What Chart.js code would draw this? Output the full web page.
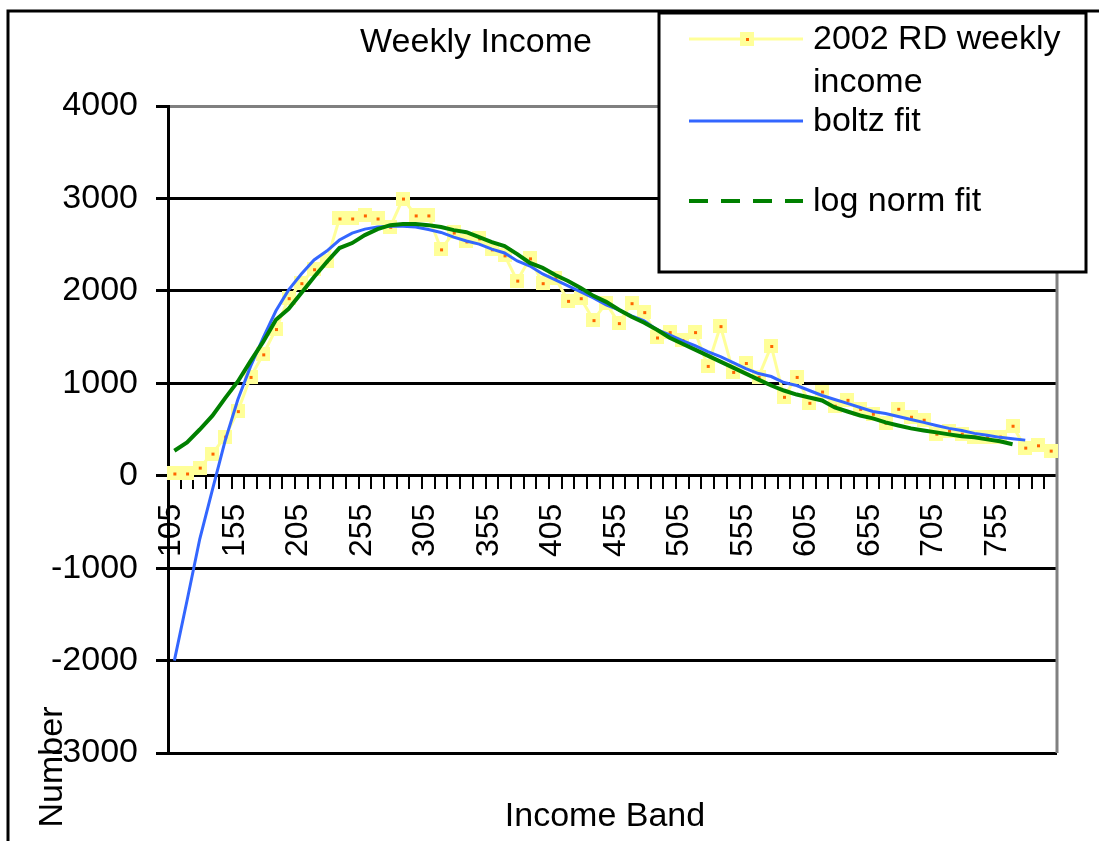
<!DOCTYPE html>
<html>
<head>
<meta charset="utf-8">
<title>Weekly Income</title>
<script src="https://cdn.jsdelivr.net/npm/chart.js@4.4.0/dist/chart.umd.min.js"></script>
<style>
  body { margin: 0; background: #fff; }
  #wrap { width: 1099px; height: 841px; }
</style>
</head>
<body>
<div id="wrap"><canvas id="weekly" width="1099" height="841"></canvas></div>
<script>
// income bands (category axis)
const bandas = [
  105, 115, 125, 135, 145, 155, 165, 175, 185, 195,
  205, 215, 225, 235, 245, 255, 265, 275, 285, 295,
  305, 315, 325, 335, 345, 355, 365, 375, 385, 395,
  405, 415, 425, 435, 445, 455, 465, 475, 485, 495,
  505, 515, 525, 535, 545, 555, 565, 575, 585, 595,
  605, 615, 625, 635, 645, 655, 665, 675, 685, 695,
  705, 715, 725, 735, 745, 755, 765, 775, 785, 795
]

// 2002 RD weekly income
const rendaSemanal = [
  24, 24, 88, 239, 423, 699, 1069, 1313, 1587, 1921,
  2083, 2234, 2320, 2783, 2783, 2816, 2783, 2693, 2999, 2816,
  2816, 2449, 2632, 2535, 2568, 2449, 2384, 2111, 2352, 2083,
  2137, 1892, 1921, 1684, 1867, 1651, 1867, 1770, 1496, 1554,
  1468, 1554, 1188, 1619, 1123, 1220, 1069, 1404, 854, 1069,
  789, 911, 757, 821, 724, 671, 573, 724, 638, 606,
  455, 487, 455, 423, 423, 423, 541, 304, 329, 272
]

// boltz fit
const boltzFit = [
  -2000, -1350, -685, -150, 380, 825, 1183, 1493, 1784, 2010,
  2183, 2334, 2431, 2550, 2625, 2668, 2690, 2700, 2700, 2690,
  2664, 2632, 2582, 2540, 2506, 2452, 2410, 2323, 2269, 2183,
  2118, 2054, 1989, 1924, 1849, 1795, 1730, 1676, 1579, 1525,
  1461, 1407, 1342, 1288, 1223, 1159, 1105, 1073, 1008, 976,
  922, 868, 825, 782, 738, 695, 674, 641, 609, 577,
  544, 512, 490, 458, 437, 415, 400, 385, null, null
]

// log norm fit
const logNormFit = [
  270, 360, 500, 650, 840, 1020, 1240, 1450, 1687, 1806,
  1978, 2150, 2312, 2463, 2517, 2603, 2668, 2711, 2722, 2722,
  2711, 2690, 2657, 2635, 2582, 2528, 2485, 2398, 2302, 2248,
  2172, 2107, 2032, 1946, 1881, 1795, 1719, 1655, 1579, 1493,
  1428, 1364, 1299, 1234, 1170, 1105, 1040, 976, 922, 878,
  846, 814, 738, 695, 652, 620, 577, 544, 512, 490,
  469, 447, 426, 415, 393, 372, 340, null, null, null
]

const yMin = -3000
const yMax = 4000
const yPasso = 1000

const AMARELO = '#ffff99'
const LARANJA = '#ff6600'
const AZUL = '#3366ff'
const VERDE = '#008000'
const FONTE = '"Liberation Sans", Arial, sans-serif'

// yellow square marker with small orange centre
const marcador = document.createElement('canvas')
marcador.width = 14
marcador.height = 14
const mctx = marcador.getContext('2d')
mctx.fillStyle = AMARELO
mctx.fillRect(0, 0, 14, 14)
mctx.fillStyle = LARANJA
mctx.fillRect(6, 6, 3, 3)

const moldura = {
  id: 'moldura',
  beforeDatasetsDraw(chart) {
    const { ctx, chartArea: a } = chart
    ctx.save()
    ctx.strokeStyle = '#808080'
    ctx.lineWidth = 3
    ctx.beginPath()
    ctx.moveTo(a.right, a.top)
    ctx.lineTo(a.right, a.bottom)
    ctx.stroke()
    ctx.restore()
  },
  afterDraw(chart) {
    const ctx = chart.ctx
    ctx.save()

    // outer frame
    ctx.strokeStyle = '#000'
    ctx.lineWidth = 3
    ctx.strokeRect(8, 11, 1100, 840)

    ctx.fillStyle = '#000'
    ctx.font = '34px ' + FONTE
    ctx.textBaseline = 'alphabetic'
    ctx.textAlign = 'center'
    ctx.fillText('Weekly Income', 476, 52)
    ctx.fillText('Income Band', 605, 826)

    ctx.save()
    ctx.translate(62, 767)
    ctx.rotate(-Math.PI / 2)
    ctx.fillText('Number', 0, 0)
    ctx.restore()

    // legend box
    ctx.fillStyle = '#fff'
    ctx.fillRect(659, 13, 427, 259)
    ctx.strokeStyle = '#000'
    ctx.lineWidth = 3
    ctx.strokeRect(659, 13, 427, 259)

    ctx.lineWidth = 3
    ctx.strokeStyle = AMARELO
    ctx.beginPath()
    ctx.moveTo(689, 39)
    ctx.lineTo(803, 39)
    ctx.stroke()
    ctx.drawImage(marcador, 740, 32)

    ctx.strokeStyle = AZUL
    ctx.beginPath()
    ctx.moveTo(689, 121)
    ctx.lineTo(803, 121)
    ctx.stroke()

    ctx.strokeStyle = VERDE
    ctx.lineWidth = 4
    ctx.setLineDash([19, 13])
    ctx.beginPath()
    ctx.moveTo(689, 201)
    ctx.lineTo(803, 201)
    ctx.stroke()
    ctx.setLineDash([])

    ctx.fillStyle = '#000'
    ctx.textAlign = 'left'
    ctx.fillText('2002 RD weekly', 813, 49)
    ctx.fillText('income', 813, 92)
    ctx.fillText('boltz fit', 813, 131)
    ctx.fillText('log norm fit', 813, 211)

    ctx.restore()
  }
}

Chart.defaults.font.family = FONTE
Chart.defaults.color = '#000'

const grafico = new Chart(document.getElementById('weekly'), {
  type: 'line',
  data: {
    labels: bandas,
    datasets: [
      {
        label: '2002 RD weekly income',
        data: rendaSemanal,
        borderColor: AMARELO,
        backgroundColor: AMARELO,
        borderWidth: 3,
        pointStyle: marcador,
        pointRadius: 7,
        tension: 0,
        order: 3
      },
      {
        label: 'boltz fit',
        data: boltzFit,
        borderColor: AZUL,
        borderWidth: 3,
        pointRadius: 0,
        tension: 0,
        order: 2
      },
      {
        label: 'log norm fit',
        data: logNormFit,
        borderColor: VERDE,
        borderWidth: 4,
        pointRadius: 0,
        tension: 0,
        order: 1
      }
    ]
  },
  options: {
    responsive: false,
    animation: false,
    events: [],
    layout: {
      padding: { top: 106, right: 42, bottom: 88, left: 0 }
    },
    plugins: {
      legend: { display: false },
      title: { display: false },
      tooltip: { enabled: false }
    },
    scales: {
      x: {
        type: 'category',
        position: { y: 0 },
        offset: true,
        afterFit: (scale) => {
          scale.paddingLeft = 0
          scale.paddingRight = 0
        },
        border: { color: '#000', width: 3 },
        grid: {
          offset: true,
          drawOnChartArea: false,
          drawTicks: true,
          tickLength: 12,
          color: '#000',
          lineWidth: 2
        },
        ticks: {
          autoSkip: false,
          minRotation: 90,
          maxRotation: 90,
          padding: 16,
          labelOffset: -3,
          font: { size: 32 },
          callback: function (val, i) {
            return i % 5 === 0 ? String(this.getLabelForValue(val)) : ''
          }
        }
      },
      y: {
        min: yMin,
        max: yMax,
        afterFit: (scale) => { scale.width = 168 },
        border: { color: '#000', width: 3 },
        grid: {
          lineWidth: 3,
          tickLength: 12,
          tickColor: '#000',
          color: (c) => (c.tick && c.tick.value === yMax ? '#808080' : '#000')
        },
        ticks: {
          stepSize: yPasso,
          padding: 18,
          font: { size: 34 },
          callback: (v) => String(v)
        }
      }
    }
  },
  plugins: [moldura]
})
</script>
</body>
</html>
